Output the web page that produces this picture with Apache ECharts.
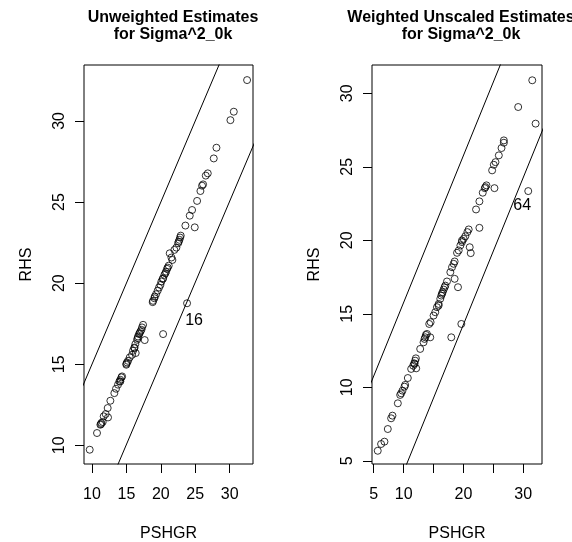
<!DOCTYPE html>
<html>
<head>
<meta charset="utf-8">
<script src="https://cdn.jsdelivr.net/npm/echarts@6/dist/echarts.min.js"></script>
<style>
html,body{margin:0;padding:0;background:#fff;}
#chart{width:572px;height:542px;}
</style>
</head>
<body>
<div id="chart"></div>
<script>
// ---- Data ----
var leftTitle = "Unweighted Estimates\nfor Sigma^2_0k";
var rightTitle = "Weighted Unscaled Estimates\nfor Sigma^2_0k";
var xName = "PSHGR";
var yName = "RHS";

// Left panel: PSHGR (x) and RHS (y)
var leftX = [9.67,10.73,11.22,11.36,11.56,11.70,11.99,12.33,12.28,12.67,13.25,13.49,13.78,13.98,14.12,14.27,14.37,14.99,15.09,15.24,15.48,15.82,15.96,16.16,16.30,16.35,16.55,16.69,16.84,17.03,17.18,17.27,17.42,17.66,20.33,23.81,18.82,18.87,19.11,19.31,19.55,19.74,19.94,20.08,20.33,20.52,20.76,20.91,21.15,21.29,21.54,21.68,21.97,22.26,22.51,22.70,22.80,22.89,23.57,24.93,24.20,24.54,25.27,25.75,25.99,26.14,26.53,26.82,27.69,28.08,30.11,30.60,32.53,16.16,16.64,16.93,19.07,20.28,20.66,14.99,11.31,14.12,22.60,21.00];
var leftY = [9.73,10.76,11.27,11.38,11.44,11.79,11.93,11.72,12.30,12.75,13.22,13.49,13.74,13.94,14.04,14.19,14.25,14.97,15.11,15.21,15.42,15.58,15.83,16.03,16.24,15.69,16.51,16.71,16.86,17.02,17.12,17.27,17.43,16.49,16.86,18.76,18.83,18.91,19.17,19.32,19.54,19.73,19.89,20.10,20.30,20.51,20.71,20.88,21.08,21.84,21.58,21.43,22.05,22.19,22.46,22.67,22.81,22.93,23.55,23.44,24.16,24.51,25.07,25.68,26.01,26.09,26.63,26.77,27.69,28.35,30.05,30.57,32.52,15.99,16.61,16.92,19.07,20.26,20.61,15.03,11.31,13.94,22.56,20.96];
var leftLabelIndex = 35, leftLabelText = "16";

// Right panel
var rightX = [5.67,6.23,6.79,7.35,7.91,8.13,9.03,9.42,9.59,10.14,10.26,10.70,11.26,11.60,11.77,11.93,12.05,12.10,12.77,13.33,13.50,13.72,13.89,14.45,14.28,14.51,15.01,15.29,15.57,15.85,16.13,16.30,16.52,16.69,16.97,17.25,17.97,19.65,18.53,19.09,17.81,18.09,18.37,18.53,18.93,19.21,19.49,19.76,20.04,20.32,20.66,20.88,21.05,21.22,22.67,22.11,22.67,23.23,23.57,23.85,25.19,24.80,25.08,25.36,25.92,26.37,26.76,26.76,29.16,31.51,32.07,30.84,16.41,16.86,15.85,13.61,11.82,19.76,23.68,9.81];
var rightY = [5.68,6.14,6.30,7.16,7.89,8.07,8.91,9.48,9.59,10.04,10.16,10.63,11.25,11.47,11.63,11.81,11.97,11.29,12.61,13.06,13.29,13.56,13.63,13.40,14.31,14.43,14.88,15.11,15.45,15.67,16.02,16.24,16.47,16.65,16.92,17.20,13.40,14.31,17.38,16.81,17.83,18.17,18.40,18.56,19.15,19.31,19.65,19.88,20.10,20.28,20.56,20.74,19.53,19.13,20.85,22.10,22.65,23.24,23.55,23.74,23.55,24.76,25.14,25.32,25.78,26.28,26.64,26.80,29.07,30.89,27.94,23.35,16.36,16.81,15.56,13.40,11.59,19.99,23.62,9.77];
var rightLabelIndex = 71, rightLabelText = "64";

// Band offsets (y = x +/- offset)
var leftBand = [5.0, -4.95];
var rightBand = [5.77, -5.73];

// Tick values
var leftXTicks = [10,15,20,25,30];
var leftYTicks = [10,15,20,25,30];
var rightXTicks = [5,10,15,20,25,30];
var rightXLabels = [5,10,20,30];
var rightYTicks = [5,10,15,20,25,30];

// ---- Layout ----
var ranges = {
  lx:[8.84,33.39], ly:[8.85,33.45],
  rx:[4.71,33.14], ry:[4.78,31.93]
};
var FONT = "Liberation Sans, Arial, Helvetica, sans-serif";

function pts(xs, ys, labIdx, labText, offset) {
  return xs.map(function(x,i){
    if (i === labIdx) {
      return {value:[x, ys[i]], label:{show:true, formatter:labText, position:'inside', offset:offset, color:'#000', opacity:1, textBorderWidth:0, fontSize:16, fontFamily:FONT}};
    }
    return [x, ys[i]];
  });
}
function bandLine(r, off) {
  var lo = r[0]-5, hi = r[1]+5;
  return [[lo, lo+off],[hi, hi+off]];
}
function xAxis(idx, r, ticks, labels) {
  return {
    type:'value', gridIndex:idx, min:r[0], max:r[1],
    name:xName, nameLocation:'middle', nameGap:62,
    nameTextStyle:{color:'#000', fontSize:16, fontFamily:FONT},
    axisLine:{show:false},
    axisTick:{show:true, inside:false, length:9, customValues:ticks, lineStyle:{color:'#000'}},
    axisLabel:{show:true, customValues:labels, margin:23, color:'#000', fontSize:16, fontFamily:FONT},
    splitLine:{show:false}
  };
}
function yAxis(idx, r, ticks) {
  return {
    type:'value', gridIndex:idx, min:r[0], max:r[1],
    name:yName, nameLocation:'middle', nameGap:49, nameRotate:90,
    nameTextStyle:{color:'#000', fontSize:16, fontFamily:FONT},
    axisLine:{show:false},
    axisTick:{show:true, inside:false, length:9, customValues:ticks, lineStyle:{color:'#000'}},
    axisLabel:{show:true, customValues:ticks, rotate:90, margin:16, color:'#000', fontSize:16, fontFamily:FONT},
    splitLine:{show:false}
  };
}
var scatterStyle = {color:'rgba(0,0,0,0)', borderColor:'#000', borderWidth:1};

var option = {
  backgroundColor:'#fff',
  animation:false,
  title:[
    {text:leftTitle, left:168, top:4, textAlign:'center', textStyle:{fontSize:16, fontWeight:'bold', color:'#000', fontFamily:FONT, lineHeight:17}},
    {text:rightTitle, left:456, top:4, textAlign:'center', textStyle:{fontSize:16, fontWeight:'bold', color:'#000', fontFamily:FONT, lineHeight:17}}
  ],
  grid:[
    {left:84, top:65, width:169, height:399, show:true, borderColor:'#000', borderWidth:1, backgroundColor:'transparent', containLabel:false, outerBoundsMode:'none'},
    {left:372, top:65, width:170, height:399, show:true, borderColor:'#000', borderWidth:1, backgroundColor:'transparent', containLabel:false, outerBoundsMode:'none'}
  ],
  xAxis:[ xAxis(0, ranges.lx, leftXTicks, leftXTicks), xAxis(1, ranges.rx, rightXTicks, rightXLabels) ],
  yAxis:[ yAxis(0, ranges.ly, leftYTicks), yAxis(1, ranges.ry, rightYTicks) ],
  series:[
    {type:'scatter', xAxisIndex:0, yAxisIndex:0, symbol:'circle', symbolSize:7, itemStyle:scatterStyle, data:pts(leftX,leftY,leftLabelIndex,leftLabelText,[7,17]), silent:true},
    {type:'scatter', xAxisIndex:1, yAxisIndex:1, symbol:'circle', symbolSize:7, itemStyle:scatterStyle, data:pts(rightX,rightY,rightLabelIndex,rightLabelText,[-6,15]), silent:true},
    {type:'line', xAxisIndex:0, yAxisIndex:0, data:bandLine(ranges.lx, leftBand[0]), symbol:'none', clip:true, lineStyle:{color:'#000', width:1}},
    {type:'line', xAxisIndex:0, yAxisIndex:0, data:bandLine(ranges.lx, leftBand[1]), symbol:'none', clip:true, lineStyle:{color:'#000', width:1}},
    {type:'line', xAxisIndex:1, yAxisIndex:1, data:bandLine(ranges.rx, rightBand[0]), symbol:'none', clip:true, lineStyle:{color:'#000', width:1}},
    {type:'line', xAxisIndex:1, yAxisIndex:1, data:bandLine(ranges.rx, rightBand[1]), symbol:'none', clip:true, lineStyle:{color:'#000', width:1}}
  ]
};
var chart = echarts.init(document.getElementById('chart'), null, {renderer:'canvas'});
chart.setOption(option);
</script>
</body>
</html>
